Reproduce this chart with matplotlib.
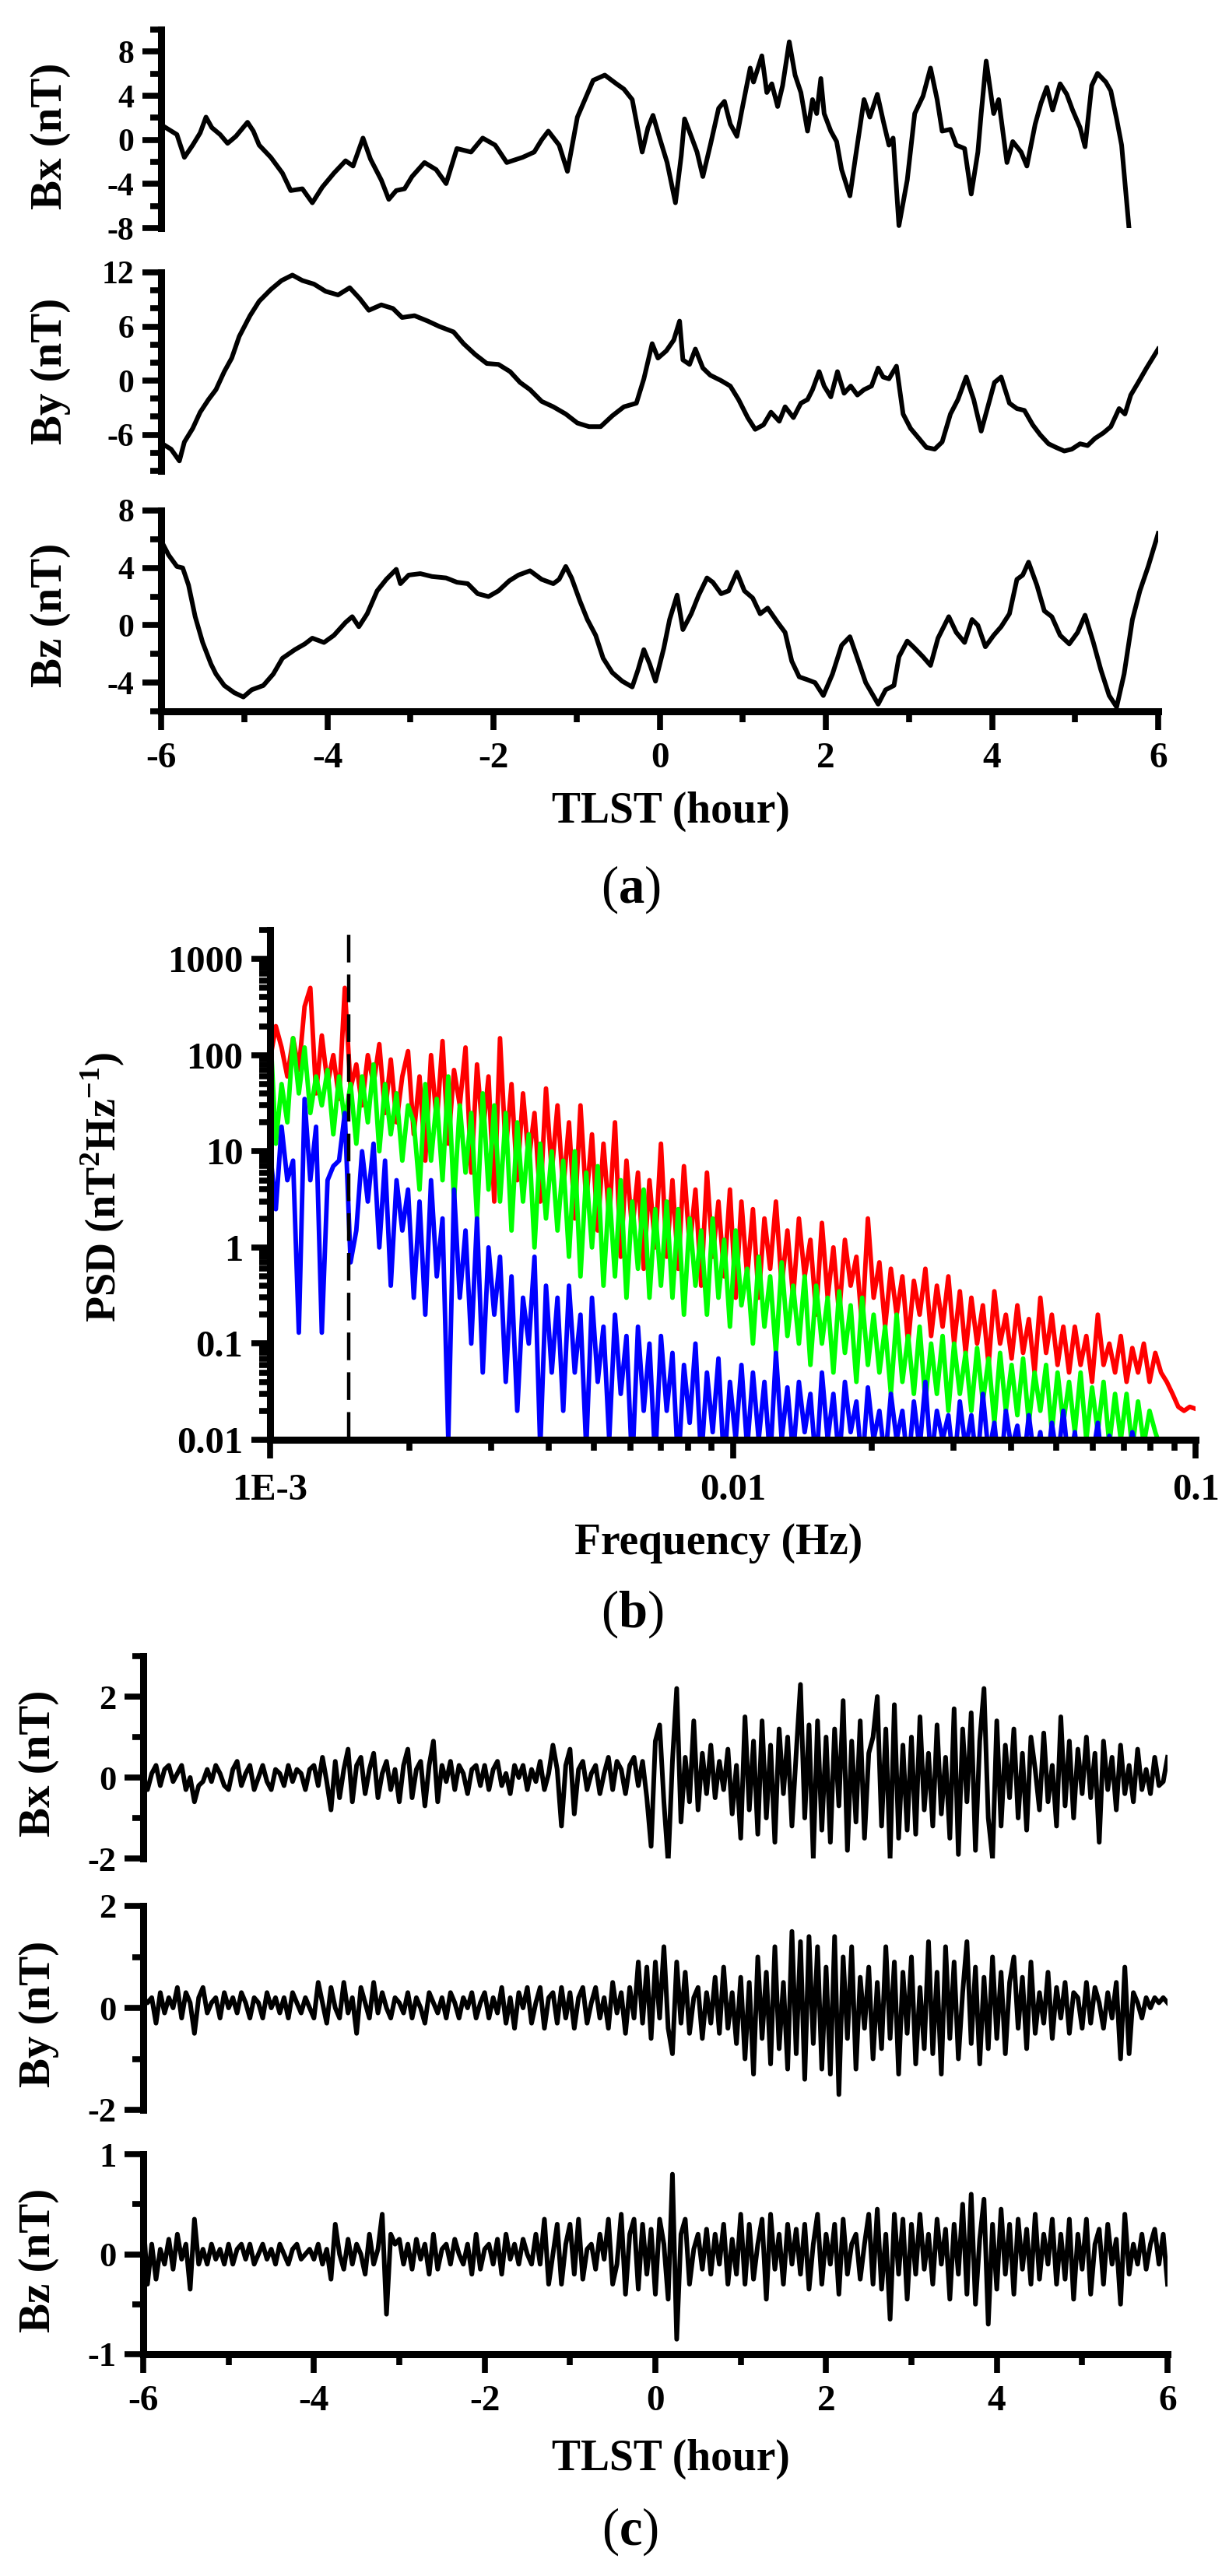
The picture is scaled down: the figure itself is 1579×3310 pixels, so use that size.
import numpy as np
import matplotlib
matplotlib.use("Agg")
import matplotlib.pyplot as plt
from matplotlib.ticker import MultipleLocator, FixedLocator, FixedFormatter, LogLocator, NullFormatter

# ---------------- panel (a): field components vs TLST ----------------
bx_a_time = [-5.98, -5.81, -5.72, -5.62, -5.53, -5.46, -5.39, -5.29, -5.20, -5.10,
             -4.96, -4.89, -4.82, -4.68, -4.54, -4.44, -4.30, -4.18, -4.06, -3.92,
             -3.78, -3.69, -3.57, -3.48, -3.35, -3.26, -3.17, -3.07, -2.98, -2.83,
             -2.69, -2.57, -2.44, -2.27, -2.13, -1.98, -1.84, -1.65, -1.51, -1.42,
             -1.34, -1.21, -1.11, -0.99, -0.90, -0.80, -0.66, -0.52, -0.43, -0.33,
             -0.21, -0.14, -0.08, 0.00, 0.09, 0.19, 0.26, 0.30, 0.38, 0.45,
             0.52, 0.61, 0.71, 0.78, 0.85, 0.93, 0.99, 1.09, 1.13, 1.23,
             1.29, 1.35, 1.42, 1.48, 1.56, 1.63, 1.70, 1.78, 1.84, 1.89,
             1.94, 1.98, 2.06, 2.13, 2.19, 2.29, 2.36, 2.46, 2.53, 2.62,
             2.69, 2.76, 2.81, 2.88, 2.98, 3.07, 3.17, 3.26, 3.34, 3.40,
             3.50, 3.57, 3.67, 3.75, 3.83, 3.87, 3.93, 4.02, 4.08, 4.18,
             4.25, 4.35, 4.42, 4.52, 4.59, 4.66, 4.73, 4.82, 4.90, 4.97,
             5.06, 5.12, 5.20, 5.27, 5.37, 5.43, 5.50, 5.56, 5.65]
bx_a = [1.27, 0.48, -1.59, -0.48, 0.63, 2.06, 1.11, 0.48, -0.32, 0.32,
        1.59, 0.79, -0.48, -1.59, -3.02, -4.60, -4.44, -5.71, -4.29, -3.02,
        -1.90, -2.38, 0.16, -1.75, -3.65, -5.40, -4.60, -4.44, -3.33, -2.06,
        -2.70, -3.97, -0.79, -1.11, 0.16, -0.48, -2.06, -1.59, -1.11, 0.00,
        0.79, -0.48, -2.86, 2.06, 3.65, 5.40, 5.87, 5.08, 4.60, 3.65,
        -1.11, 1.11, 2.22, 0.16, -2.06, -5.71, -1.43, 1.90, 0.32, -1.11,
        -3.33, -0.48, 2.86, 3.49, 1.43, 0.32, 2.70, 6.51, 5.24, 7.62,
        4.29, 5.08, 3.02, 4.92, 8.89, 5.87, 4.29, 0.79, 3.65, 2.38,
        5.56, 2.38, 0.79, -0.16, -2.70, -5.08, -1.43, 3.65, 2.06, 4.13,
        1.75, -0.48, 0.16, -7.78, -3.65, 2.38, 3.97, 6.51, 3.65, 0.79,
        0.95, -0.48, -0.79, -4.92, -1.11, 2.38, 7.14, 2.38, 3.65, -2.06,
        -0.16, -1.11, -2.38, 1.43, 3.33, 4.76, 2.70, 5.08, 4.13, 2.70,
        1.11, -0.63, 4.92, 6.03, 5.24, 4.44, 1.90, -0.48, -8.10]

by_a_time = [-5.95, -5.88, -5.78, -5.72, -5.62, -5.53, -5.43, -5.34, -5.24, -5.15,
             -5.06, -4.93, -4.82, -4.68, -4.55, -4.42, -4.30, -4.16, -4.02, -3.87,
             -3.73, -3.61, -3.50, -3.35, -3.21, -3.10, -2.95, -2.79, -2.65, -2.48,
             -2.36, -2.22, -2.08, -1.94, -1.80, -1.68, -1.56, -1.42, -1.28, -1.13,
             -0.99, -0.85, -0.71, -0.57, -0.43, -0.28, -0.19, -0.09, -0.02, 0.08,
             0.17, 0.24, 0.28, 0.36, 0.43, 0.52, 0.61, 0.74, 0.85, 0.95,
             1.06, 1.15, 1.25, 1.34, 1.44, 1.51, 1.61, 1.70, 1.78, 1.84,
             1.92, 1.98, 2.06, 2.14, 2.22, 2.30, 2.38, 2.46, 2.55, 2.63,
             2.69, 2.76, 2.85, 2.93, 3.02, 3.12, 3.21, 3.31, 3.40, 3.50,
             3.59, 3.69, 3.78, 3.87, 3.95, 4.03, 4.11, 4.21, 4.30, 4.39,
             4.49, 4.58, 4.68, 4.77, 4.87, 4.96, 5.06, 5.15, 5.24, 5.34,
             5.43, 5.53, 5.60, 5.67, 5.76, 5.86, 6.00]
by_a = [-7.2, -7.6, -8.9, -6.8, -5.3, -3.5, -2.1, -1.0, 1.0, 2.5,
        4.9, 7.2, 8.8, 10.1, 11.1, 11.7, 11.1, 10.7, 9.9, 9.5,
        10.3, 9.1, 7.8, 8.4, 8.0, 7.0, 7.2, 6.6, 6.0, 5.4,
        4.1, 2.9, 1.9, 1.8, 1.0, -0.2, -1.0, -2.3, -2.9, -3.7,
        -4.7, -5.1, -5.1, -3.9, -2.9, -2.5, 0.2, 4.1, 2.5, 3.3,
        4.5, 6.6, 2.3, 1.8, 3.5, 1.4, 0.6, 0.0, -0.6, -2.1,
        -4.1, -5.4, -4.9, -3.5, -4.5, -2.9, -4.1, -2.5, -2.1, -1.0,
        1.0, -0.6, -1.8, 1.0, -1.4, -0.6, -1.6, -1.0, -0.6, 1.4,
        0.4, 0.2, 1.6, -3.7, -5.3, -6.4, -7.4, -7.6, -6.8, -3.7,
        -2.1, 0.4, -2.1, -5.6, -2.9, -0.2, 0.4, -2.5, -3.1, -3.3,
        -4.9, -6.0, -7.0, -7.4, -7.8, -7.6, -7.0, -7.2, -6.4, -5.8,
        -5.1, -3.1, -3.7, -1.6, -0.2, 1.4, 3.5]

bz_a_time = [-6.00, -5.91, -5.81, -5.74, -5.67, -5.59, -5.50, -5.40, -5.34, -5.24,
             -5.12, -5.01, -4.91, -4.77, -4.65, -4.54, -4.39, -4.27, -4.18, -4.04,
             -3.92, -3.78, -3.70, -3.62, -3.52, -3.40, -3.29, -3.17, -3.12, -3.02,
             -2.88, -2.74, -2.57, -2.44, -2.31, -2.19, -2.06, -1.94, -1.81, -1.70,
             -1.56, -1.42, -1.28, -1.21, -1.13, -1.06, -0.96, -0.87, -0.77, -0.68,
             -0.57, -0.45, -0.33, -0.26, -0.19, -0.12, -0.05, 0.05, 0.12, 0.21,
             0.28, 0.38, 0.47, 0.57, 0.64, 0.74, 0.83, 0.93, 1.02, 1.12,
             1.21, 1.30, 1.42, 1.51, 1.59, 1.68, 1.78, 1.87, 1.97, 2.08,
             2.19, 2.29, 2.38, 2.48, 2.55, 2.63, 2.72, 2.82, 2.88, 2.98,
             3.07, 3.17, 3.26, 3.35, 3.48, 3.57, 3.67, 3.76, 3.83, 3.92,
             4.02, 4.11, 4.21, 4.30, 4.37, 4.44, 4.54, 4.63, 4.72, 4.82,
             4.93, 5.03, 5.12, 5.22, 5.31, 5.41, 5.50, 5.59, 5.69, 5.78,
             5.88, 6.00]
bz_a = [5.9, 4.9, 4.1, 4.0, 2.8, 0.6, -1.2, -2.7, -3.4, -4.2,
        -4.7, -5.0, -4.5, -4.2, -3.4, -2.3, -1.7, -1.3, -0.9, -1.2,
        -0.7, 0.2, 0.6, -0.1, 0.8, 2.4, 3.2, 3.9, 2.9, 3.5,
        3.6, 3.4, 3.3, 3.0, 2.9, 2.2, 2.0, 2.4, 3.1, 3.5,
        3.8, 3.2, 2.9, 3.2, 4.1, 3.3, 1.7, 0.4, -0.7, -2.3,
        -3.3, -3.9, -4.3, -3.1, -1.7, -2.7, -3.9, -1.6, 0.4, 2.1,
        -0.3, 0.8, 2.1, 3.3, 3.0, 2.2, 2.4, 3.7, 2.4, 1.9,
        0.8, 1.2, 0.2, -0.5, -2.5, -3.6, -3.8, -4.0, -4.9, -3.4,
        -1.4, -0.8, -2.3, -4.0, -4.7, -5.5, -4.5, -4.2, -2.2, -1.1,
        -1.6, -2.2, -2.8, -0.9, 0.6, -0.5, -1.2, 0.4, 0.0, -1.5,
        -0.7, -0.1, 0.8, 3.2, 3.5, 4.4, 2.8, 1.0, 0.6, -0.7,
        -1.3, -0.5, 0.7, -1.2, -3.1, -4.9, -5.7, -3.4, 0.4, 2.4,
        4.1, 6.4]

# ---------------- panel (b): power spectral density ----------------
psd_red = [90, 200, 120, 60, 150, 70, 320, 500, 40, 160, 50, 100, 35, 500, 45,
           80, 30, 100, 50, 130, 25, 90, 20, 60, 110, 15,
           60, 8, 100, 20, 140, 12, 70, 30, 120, 6, 80, 15, 60, 3, 150,
           10, 50, 5, 40, 8, 25, 3, 45, 6, 30,
           4, 20, 2, 30, 3, 15, 1.5, 12,
           2, 20, 0.8, 8, 1.5, 6, 0.6, 5, 1, 12, 0.8,
           5, 0.6, 7, 1, 4, 0.4, 6, 0.8, 3, 0.5, 4, 0.3, 3,
           0.5, 2.5, 0.3, 2, 0.6, 3, 0.4, 1.5, 0.3, 2, 0.5, 1.2, 0.2, 1.8,
           0.3, 1, 0.2, 1.2, 0.4, 0.8, 0.15, 2, 0.3, 0.7,
           0.15, 0.6, 0.2, 0.5, 0.1, 0.45, 0.2, 0.6, 0.12, 0.4, 0.15, 0.5, 0.1, 0.35,
           0.08, 0.3, 0.1, 0.25, 0.06, 0.35, 0.1, 0.2, 0.07, 0.25, 0.08, 0.18, 0.05, 0.3, 0.08, 0.2, 0.06, 0.15,
           0.05, 0.15, 0.06, 0.12, 0.04, 0.2, 0.06, 0.1, 0.05, 0.12, 0.04, 0.09, 0.05, 0.1, 0.04,
           0.08, 0.05, 0.04, 0.03, 0.022, 0.02, 0.022, 0.021]
psd_green = [200, 12, 50, 20, 150, 40, 120, 25, 60, 30, 70, 15, 60, 20, 50,
             12, 60, 20, 80, 10, 50, 15, 40, 8, 30, 20,
             4, 50, 8, 35, 5, 60, 3, 30, 6, 25, 2, 40, 4, 30, 3,
             25, 1.5, 20, 3, 15, 1, 12, 2, 10, 1.5,
             8, 0.8, 10, 0.5, 6, 1, 7, 0.4,
             4, 0.5, 5, 0.3, 3, 0.6, 4, 0.3, 2.5, 0.4, 3,
             0.3, 2.5, 0.2, 2, 0.4, 1.5, 0.2, 2, 0.3, 1.2, 0.15, 1.5, 0.25,
             0.6, 0.1, 0.8, 0.15, 0.5, 0.08, 0.7, 0.12, 0.4, 0.1, 0.5, 0.06, 0.4, 0.1,
             0.3, 0.05, 0.35, 0.08, 0.25, 0.04, 0.3, 0.06, 0.2, 0.05,
             0.15, 0.03, 0.2, 0.04, 0.12, 0.03, 0.15, 0.025, 0.1, 0.03, 0.12, 0.02, 0.1, 0.03,
             0.08, 0.02, 0.09, 0.025, 0.07, 0.015, 0.08, 0.02, 0.06, 0.018, 0.07, 0.015, 0.05, 0.02, 0.06, 0.012, 0.05, 0.015,
             0.04, 0.012, 0.05, 0.01, 0.035, 0.012, 0.04, 0.009, 0.03, 0.01, 0.03, 0.008, 0.025, 0.009, 0.02,
             0.012, 0.008, 0.006, 0.005, 0.004, 0.004, 0.004, 0.004]
psd_blue = [10, 2.5, 18, 5, 8, 0.13, 35, 5, 18, 0.13, 5, 7, 8, 25, 0.7, 1.5, 10, 3, 12, 1, 8, 0.4, 5, 1.5, 4, 0.3,
            3, 0.2, 5, 0.5, 2, 0.01, 4, 0.3, 1.5, 0.1, 2, 0.05, 1, 0.2, 0.8,
            0.04, 0.5, 0.02, 0.3, 0.1, 0.8, 0.008, 0.4, 0.05, 0.3,
            0.02, 0.4, 0.05, 0.2, 0.008, 0.3, 0.04, 0.15,
            0.01, 0.2, 0.03, 0.12, 0.005, 0.15, 0.02, 0.1, 0.006, 0.12, 0.02,
            0.08, 0.005, 0.06, 0.015, 0.1, 0.006, 0.05, 0.012, 0.07, 0.005, 0.04, 0.01, 0.06,
            0.008, 0.05, 0.01, 0.04, 0.006, 0.08, 0.01, 0.035, 0.007, 0.04, 0.012, 0.03, 0.005, 0.05,
            0.01, 0.03, 0.006, 0.04, 0.012, 0.025, 0.005, 0.035, 0.01, 0.02,
            0.006, 0.03, 0.01, 0.02, 0.005, 0.025, 0.008, 0.04, 0.006, 0.02, 0.01, 0.018, 0.005, 0.025,
            0.008, 0.018, 0.005, 0.03, 0.007, 0.015, 0.004, 0.02, 0.008, 0.014, 0.005, 0.018, 0.006, 0.012, 0.004, 0.015, 0.006, 0.02,
            0.005, 0.012, 0.004, 0.01, 0.006, 0.015, 0.004, 0.011, 0.005, 0.009, 0.004, 0.012, 0.005, 0.008, 0.004,
            0.006, 0.004, 0.003, 0.003, 0.003, 0.003, 0.003, 0.003]
mark_freq = 1.48e-3

# ---------------- panel (c): band-pass filtered components ----------------
bx_c = [-0.2, -0.3, 0.1, 0.3, -0.2, 0.2, 0.3, -0.1, 0.1, 0.3, -0.3, 0.0, -0.6, -0.2, -0.1, 0.2, -0.1, 0.3, 0.1, -0.2,
        -0.3, 0.2, 0.4, -0.2, 0.1, 0.3, -0.3, 0.0, 0.3, -0.1, -0.3, 0.2, 0.1, -0.2, 0.3, -0.1, 0.2, 0.1, -0.3, 0.2,
        0.3, -0.2, 0.5, -0.1, -0.8, 0.4, -0.5, 0.2, 0.7, -0.6, 0.3, 0.5, -0.4, 0.2, 0.6, -0.5, 0.1, 0.4, -0.3, 0.2,
        -0.6, 0.3, 0.7, -0.5, 0.2, 0.4, -0.7, 0.3, 0.9, -0.6, 0.3, -0.1, 0.4, -0.3, 0.3, 0.1, -0.4, 0.2, 0.3, -0.2,
        0.3, -0.3, 0.2, 0.4, -0.2, 0.1, -0.4, 0.3, 0.0, 0.3, -0.3, 0.2, -0.1, 0.4, -0.3, 0.1, 0.8, 0.2, -1.2, 0.3,
        0.7, -0.9, 0.2, 0.4, -0.3, 0.1, 0.3, -0.4, 0.1, 0.5, -0.3, 0.4, 0.2, -0.4, 0.3, 0.5, -0.2, 0.4, -0.5, -1.7,
        0.9, 1.3, -0.6, -2.1, 0.4, 2.2, -1.1, 0.5, -0.6, 1.4, -0.8, 0.6, -0.4, 0.8, -0.5, 0.4, -0.3, 0.7, -0.9, 0.3,
        -1.5, 1.5, -0.8, 0.9, -1.4, 1.4, -1.0, 0.8, -1.6, 1.2, -0.4, 1.0, -1.2, 0.6, 2.3, -1.0, 1.3, -2.0, 1.4, -1.3,
        1.0, -1.6, 1.2, -0.7, 1.9, -1.8, 0.9, -1.1, 1.4, -1.5, 0.6, 1.0, 2.0, -1.2, 1.2, -2.0, 1.8, -1.5, 0.8, -1.3,
        1.0, -1.4, 1.5, -0.8, 0.6, -1.2, 1.3, -0.9, 0.5, -1.5, 1.7, -1.9, 1.2, -0.6, 1.6, -1.8, 0.9, 2.2, -1.0, -2.0,
        1.4, -1.2, 0.8, -0.5, 1.2, -1.0, 0.6, -1.3, 1.0, 0.2, -0.8, 1.1, -0.6, 0.3, -1.2, 1.5, -0.7, 0.9, -1.0, 0.7,
        -0.4, 1.0, -0.5, 0.6, -1.6, 0.9, -0.3, 0.5, -0.8, 0.8, -0.4, 0.3, -0.6, 0.7, -0.3, 0.2, -0.4, 0.5, -0.2, -0.1, 0.5]
by_c = [0.2, 0.1, 0.2, -0.3, 0.3, -0.1, 0.2, 0.0, 0.4, -0.2, 0.3, 0.1, -0.5, 0.2, 0.4, -0.1, 0.1, 0.2, -0.2, 0.3,
        0.0, 0.2, -0.1, 0.3, 0.1, -0.2, 0.2, 0.1, -0.2, 0.3, 0.0, 0.2, -0.1, 0.2, -0.2, 0.3, 0.1, -0.1, 0.2, 0.0,
        -0.2, 0.5, 0.1, -0.3, 0.4, 0.0, -0.2, 0.5, -0.1, 0.2, -0.5, 0.4, 0.1, -0.2, 0.5, -0.1, 0.3, 0.0, -0.2, 0.2,
        0.1, -0.1, 0.3, -0.2, 0.2, 0.0, -0.3, 0.3, 0.1, -0.1, 0.2, -0.2, 0.3, 0.1, -0.2, 0.2, 0.0, 0.3, -0.2, 0.1,
        0.3, -0.2, 0.2, -0.1, 0.4, -0.3, 0.2, -0.4, 0.3, 0.0, 0.4, -0.3, 0.1, 0.4, -0.4, 0.2, 0.3, -0.3, 0.4, -0.2,
        0.3, -0.4, 0.2, 0.4, -0.3, 0.1, 0.4, -0.2, 0.2, -0.4, 0.5, -0.1, 0.3, -0.5, 0.4, -0.2, 0.9, -0.3, 0.8, -0.6,
        0.9, -0.2, 1.2, -0.4, -0.9, 0.9, -0.3, 0.7, -0.5, 0.2, 0.4, -0.6, 0.3, -0.3, 0.6, -0.5, 0.8, -0.4, 0.3, -0.7,
        0.6, -1.0, 0.5, -1.3, 1.0, -0.6, 0.7, -1.1, 1.2, -0.8, 0.5, -1.2, 1.5, -0.9, 1.3, -1.4, 1.4, -0.7, 1.2, -1.2,
        0.8, -1.3, 1.4, -1.7, 1.0, -0.6, 1.2, -1.2, 0.6, -0.4, 0.8, -1.0, 0.5, -0.8, 1.2, -0.6, 0.9, -1.3, 0.7, -0.5,
        1.0, -1.1, 0.4, -0.8, 1.3, -0.9, 0.7, -1.3, 1.2, -0.6, 0.9, -1.0, 0.3, 1.3, -0.7, 0.8, -1.1, 0.6, -0.8, 1.0,
        -0.6, 0.7, -0.9, 0.5, 1.0, -0.4, 0.6, -0.8, 0.9, -0.5, 0.3, -0.3, 0.7, -0.6, 0.4, -0.2, 0.5, -0.5, 0.3, 0.2,
        -0.4, 0.5, -0.3, 0.4, 0.1, -0.4, 0.3, -0.2, 0.5, -1.0, 0.8, -0.9, 0.3, 0.1, -0.2, 0.2, 0.0, 0.2, 0.1, 0.2, 0.1]
bz_c = [0.35, -0.3, 0.1, -0.25, 0.05, -0.1, 0.15, -0.15, 0.2, -0.05, 0.1, -0.35, 0.35, -0.1, 0.05, -0.1, 0.1, -0.05, 0.05, -0.1,
        0.1, -0.1, 0.05, 0.1, -0.05, 0.1, -0.1, 0.0, 0.1, -0.05, 0.05, -0.1, 0.1, 0.0, -0.1, 0.05, 0.1, -0.05, 0.0, 0.05,
        -0.05, 0.1, -0.1, 0.05, -0.25, 0.3, 0.0, -0.15, 0.15, -0.1, 0.1, 0.0, -0.2, 0.2, -0.1, 0.05, 0.4, -0.6, 0.2, 0.1,
        0.15, -0.1, 0.1, -0.15, 0.15, -0.05, 0.1, -0.2, 0.2, -0.15, 0.05, 0.1, -0.1, 0.15, 0.0, -0.1, 0.1, -0.2, 0.2, -0.15,
        0.05, 0.1, -0.1, 0.15, -0.2, 0.2, -0.05, 0.1, -0.1, 0.15, 0.0, -0.1, 0.2, -0.1, 0.35, -0.3, 0.0, 0.3, -0.3, 0.1,
        0.3, -0.2, 0.35, -0.25, 0.05, 0.1, -0.15, 0.2, -0.05, 0.35, -0.3, -0.1, 0.4, -0.4, 0.2, 0.35, -0.35, 0.3, -0.2, 0.25,
        -0.4, 0.35, 0.1, -0.45, 0.8, -0.85, 0.2, 0.35, -0.3, 0.05, 0.2, -0.15, 0.25, -0.2, 0.2, -0.1, 0.3, -0.3, 0.15, -0.2,
        0.4, -0.3, 0.3, -0.25, 0.1, 0.35, -0.45, 0.4, -0.15, 0.2, -0.3, 0.3, -0.1, 0.25, -0.2, 0.3, -0.35, 0.1, 0.4, -0.3,
        0.2, -0.1, 0.3, -0.4, 0.35, -0.2, 0.1, 0.2, -0.25, 0.1, 0.4, -0.3, 0.45, -0.35, 0.2, -0.65, 0.4, -0.2, 0.35, -0.45,
        0.3, -0.2, 0.4, -0.15, 0.2, -0.3, 0.35, -0.1, 0.25, -0.45, 0.3, -0.2, 0.5, -0.4, 0.6, -0.5, 0.15, 0.55, -0.7, 0.3,
        -0.35, 0.45, -0.2, 0.3, -0.4, 0.35, -0.15, 0.25, -0.3, 0.4, -0.25, 0.2, -0.1, 0.35, -0.3, 0.2, -0.25, 0.35, -0.45, 0.2,
        -0.15, 0.35, -0.4, 0.1, 0.25, -0.3, 0.3, -0.1, 0.15, -0.5, 0.4, -0.2, 0.1, -0.1, 0.2, -0.15, 0.1, 0.25, -0.1, 0.2, -0.3]

# ---------------- styling ----------------
plt.rcParams['font.family'] = ['Liberation Serif', 'DejaVu Serif']
plt.rcParams['font.weight'] = 'bold'
plt.rcParams['axes.unicode_minus'] = False
plt.rcParams['mathtext.fontset'] = 'custom'
plt.rcParams['mathtext.rm'] = 'Liberation Serif'
plt.rcParams['mathtext.bf'] = 'Liberation Serif:bold'

W, H = 1579, 3310
fig = plt.figure(figsize=(W / 100, H / 100), dpi=100)


def add_ax(left, top, right, bottom):
    # pixel box -> figure fraction
    return fig.add_axes([left / W, 1 - bottom / H, (right - left) / W, (bottom - top) / H])


def style(ax, with_x, ysize):
    ax.spines['top'].set_visible(False)
    ax.spines['right'].set_visible(False)
    ax.spines['left'].set_linewidth(6.5)
    ax.spines['bottom'].set_linewidth(6.5)
    ax.tick_params(which='both', direction='out', width=5.5)
    ax.tick_params(which='major', length=17)
    ax.tick_params(which='minor', length=10)
    ax.tick_params(axis='y', labelsize=ysize, pad=8)
    if with_x:
        ax.tick_params(axis='x', labelsize=34, pad=12)
    else:
        ax.spines['bottom'].set_visible(False)
        ax.tick_params(axis='x', which='both', bottom=False, labelbottom=False)
    ax.patch.set_visible(False)


def ylab(x, y, s):
    fig.text(x / W, 1 - y / H, s, rotation=90, ha='center', va='center', fontsize=41)


def ctext(x, y, s, size=40, weight='bold'):
    fig.text(x / W, 1 - y / H, s, ha='center', va='center', fontsize=size, fontweight=weight)


# panel (a)
rows_a = [
    (bx_a_time, bx_a, (-8, 10), 4, 2, 'Bx (nT)', 38, 293, 175),
    (by_a_time, by_a, (-10, 12), 6, 2, 'By (nT)', 350, 605, 477),
    (bz_a_time, bz_a, (-6, 8), 4, 2, 'Bz (nT)', 656, 914, 790),
]
for i, (t, v, yl, maj, mnr, lab, top, bot, yc) in enumerate(rows_a):
    ax = add_ax(207, top, 1488, bot)
    ax.plot(t, v, color='black', lw=4.3)
    ax.set_xlim(-6, 6)
    ax.set_ylim(*yl)
    ax.yaxis.set_major_locator(MultipleLocator(maj))
    ax.yaxis.set_minor_locator(MultipleLocator(mnr))
    ax.xaxis.set_major_locator(MultipleLocator(2))
    ax.xaxis.set_minor_locator(MultipleLocator(1))
    style(ax, i == 2, 30)
    ylab(65, yc, lab)
ctext(862, 1043, 'TLST (hour)')
ctext(810, 1143, r'($\mathbf{a}$)', size=48, weight='normal')

# panel (b)
ax = add_ax(347, 1195, 1536, 1850)
ax.set_xscale('log')
ax.set_yscale('log')
for vals, col in [(psd_red, '#ff0000'), (psd_green, '#00ff00'), (psd_blue, '#0000ff')]:
    freq = np.geomspace(1e-3, 0.1, len(vals))
    ax.plot(freq, vals, color=col, lw=4.2)
ax.axvline(mark_freq, color='black', lw=3.2, linestyle=(0, (8, 3.5)))
ax.set_xlim(1e-3, 0.1)
ax.set_ylim(0.01, 2000)
ax.xaxis.set_major_locator(FixedLocator([1e-3, 1e-2, 1e-1]))
ax.xaxis.set_major_formatter(FixedFormatter(['1E-3', '0.01', '0.1']))
ax.xaxis.set_minor_locator(LogLocator(base=10, subs=np.arange(2, 10)))
ax.xaxis.set_minor_formatter(NullFormatter())
ax.yaxis.set_major_locator(FixedLocator([0.01, 0.1, 1, 10, 100, 1000]))
ax.yaxis.set_major_formatter(FixedFormatter(['0.01', '0.1', '1', '10', '100', '1000']))
ax.yaxis.set_minor_locator(LogLocator(base=10, subs=np.arange(2, 10), numticks=20))
ax.yaxis.set_minor_formatter(NullFormatter())
style(ax, True, 35)
ax.tick_params(axis='x', labelsize=35, pad=14)
fig.text(131 / W, 1 - 1525 / H, r'PSD (nT$^{\mathbf{2}}$Hz$^{\mathbf{-1}}$)',
         rotation=90, ha='center', va='center', fontsize=39)
ctext(923, 1983, 'Frequency (Hz)')
ctext(812, 2074, r'($\mathbf{b}$)', size=48, weight='normal')

# panel (c)
rows_c = [
    (bx_c, (-2, 3), 2, 1, 'Bx (nT)', 2128, 2388),
    (by_c, (-2, 2), 2, 1, 'By (nT)', 2449, 2711),
    (bz_c, (-1, 1), 1, 0.5, 'Bz (nT)', 2768, 3025),
]
for i, (v, yl, maj, mnr, lab, top, bot) in enumerate(rows_c):
    ax = add_ax(184, top, 1500, bot)
    t = np.linspace(-6, 6, len(v))
    ax.plot(t, v, color='black', lw=4.3)
    ax.set_xlim(-6, 6)
    ax.set_ylim(*yl)
    ax.yaxis.set_major_locator(MultipleLocator(maj))
    ax.yaxis.set_minor_locator(MultipleLocator(mnr))
    ax.xaxis.set_major_locator(MultipleLocator(2))
    ax.xaxis.set_minor_locator(MultipleLocator(1))
    style(ax, i == 2, 32)
    ylab(50, (top + bot) / 2 + 8, lab)
ctext(862, 3160, 'TLST (hour)')
ctext(810, 3253, r'($\mathbf{c}$)', size=48, weight='normal')

fig.savefig('out.png', dpi=100)
